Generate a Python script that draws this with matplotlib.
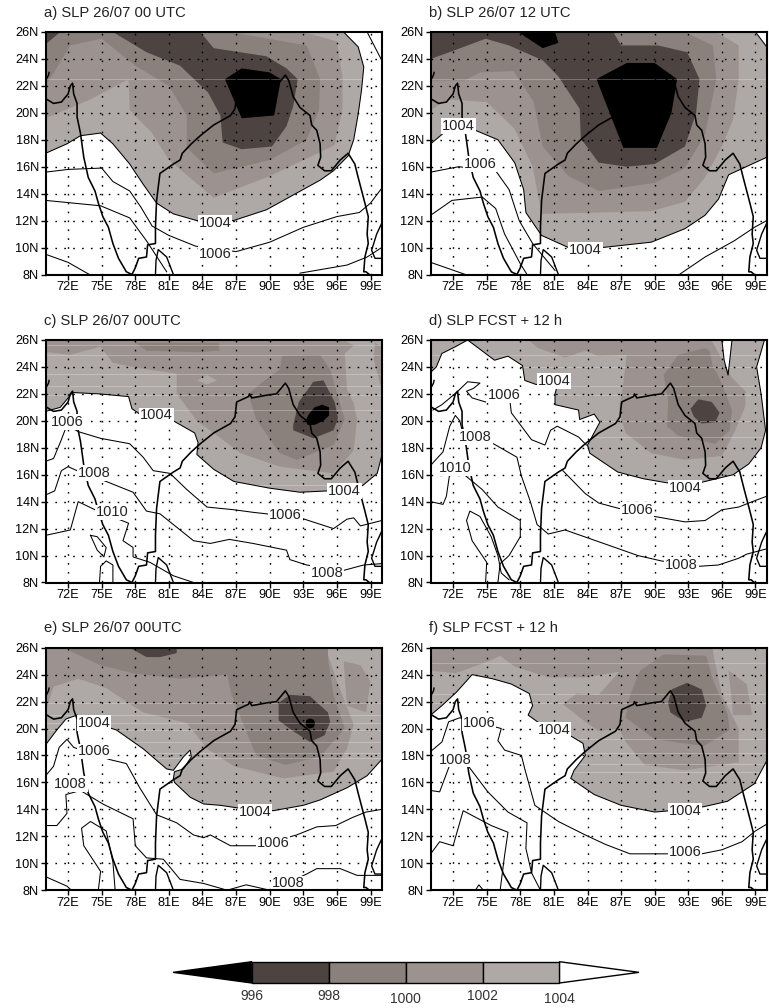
import matplotlib
matplotlib.use('Agg')
import matplotlib.pyplot as plt
from matplotlib.patches import Polygon

plt.rcParams['font.family'] = ['Liberation Sans', 'DejaVu Sans']
plt.rcParams['lines.solid_joinstyle'] = 'round'

W, H = 769, 1008

BAND_COLORS = {1004: '#aea9a6', 1002: '#9c9390', 1000: '#8a807c', 998: '#4d4441', 996: '#000000'}
LON_TICKS = [72, 75, 78, 81, 84, 87, 90, 93, 96, 99]
LAT_TICKS = [8, 10, 12, 14, 16, 18, 20, 22, 24, 26]

# coastlines, same in every panel (lon, lat)
COAST_WEST = [(70, 21.05), (70.7, 20.7), (71.4, 20.8), (72, 21.4), (72.2, 22), (72.4, 22.2), (72.5, 21.4),
              (72.8, 20.7), (72.8, 19.7), (73.1, 18.5), (73.4, 16.7), (73.8, 15.2), (74.4, 14.2), (74.7, 13.3),
              (75.1, 12.3), (75.6, 11.5), (76, 10.3), (76.5, 9.2), (77.2, 8.2), (77.7, 8), (78, 8.5), (78.3, 9.2),
              (79, 9.3), (79.1, 10.2), (79.8, 10.3), (79.8, 11.5), (79.9, 13.5), (80.2, 15.5), (80.8, 15.85),
              (81.4, 16.2), (82, 16.5), (82.2, 17), (83, 17.7), (83.8, 18.3), (85, 19.1), (86.5, 19.8), (86.9, 20.3),
              (87.05, 21.4), (88.1, 21.8), (88.2, 22), (88.4, 21.7), (89.7, 21.9), (90.6, 22), (91.4, 22.8),
              (91.7, 22.4), (92.1, 21.2), (92.7, 20.4), (93.6, 19.8), (93.75, 19.1), (94.2, 18.7), (94.5, 17.7),
              (94.55, 16.7), (94.3, 16.1), (94.9, 15.7), (95.5, 15.7), (96.3, 16.5), (97, 17), (97.6, 16.2),
              (97.9, 15.2), (98.5, 13.3), (98.8, 12.3), (98.7, 11), (98.8, 10.3), (98.5, 9.3), (98.4, 8.2),
              (98.6, 8.2), (98.9, 8)]
COAST_KRA = [(100, 11.8), (99.55, 11), (99.1, 9.8), (99.4, 9.2), (100, 9.2)]
COAST_LANKA = [(79.8, 8), (79.85, 9.05), (80.05, 9.85), (80.8, 9.3), (81.4, 8)]
COAST_KATHIAWAR = [(70, 22.4), (70.25, 22.8), (70.3, 23)]

# panel a
A_1004 = [(70, 17), (71.9, 17.7), (73.1, 18.3), (74.9, 18.5), (76, 17.7), (77.5, 16.2), (78.7, 14.7), (79.9, 13.3),
          (81.4, 12.5), (83.5, 12), (86.75, 12), (89.7, 12.8), (92.1, 13.9), (94.5, 15), (95.7, 15.7), (97, 16.8),
          (97.5, 18), (97.9, 19.9), (98.2, 21.7), (98.4, 23.4), (97.9, 24.9), (96.6, 26), (70, 26)]
A_1002 = [(70, 19.6), (74, 21), (77.4, 22.5), (77.5, 20.2), (79.5, 18.5), (81, 16.5), (85, 13.7), (90, 15.3),
          (95.8, 17.6), (96.5, 20.3), (96.5, 22.6), (96, 25.3), (93, 26), (70, 26)]
A_1000 = [(70, 22), (72.2, 25), (75, 25.5), (78, 23.5), (81, 22), (82.6, 19.8), (82.6, 17.4), (85, 15.5), (90, 16.5),
          (93.3, 18), (94.4, 20.2), (94.5, 22.5), (93.3, 25), (86.5, 26), (70, 26)]
A_998 = [(76, 26), (79, 24.5), (82, 23.5), (84.5, 21.5), (85.6, 19.8), (85.8, 17.8), (87.5, 17.3), (90.2, 17.5),
         (91.5, 19), (92.1, 20.5), (92.5, 22.5), (91.5, 23.3), (89.7, 24.2), (85, 24.8), (83.8, 26)]
A_998B = [(70, 25.1), (71.3, 26), (70, 26)]
A_996 = [(86, 22.5), (87.5, 23.3), (90, 23), (91, 22.5), (90.4, 19.8), (87.5, 19.6)]
A_LINES = [[(70, 15.6), (72, 15.8), (75, 15.9), (76, 14.9), (77.5, 14.2), (78.5, 13), (79.5, 11.6), (81, 10.9),
            (83.4, 10.1), (87, 9.7), (90, 10.4), (93, 11.5), (96, 12.3), (98, 12.6), (99, 13.3), (100, 14.4)],
           [(98.7, 26), (100, 23.9)],
           [(70, 13.5), (74.9, 13.1), (77.5, 12.2), (79, 10.5), (80.8, 8.2)],
           [(70, 9.5), (72, 8.9), (73.9, 8)],
           [(92.7, 8.1), (96.9, 8.7), (98.7, 9.3), (100, 10)]]
A_LABELS = [(1004, 85.1, 11.8), (1006, 85.1, 9.55)]

# panel b
B_1004 = [(70, 17.7), (71.3, 18.6), (74, 18.7), (76, 18), (77.5, 16.3), (78.3, 14.3), (78.5, 12.6), (79.9, 10.9),
          (82.3, 10), (85.3, 10), (89.7, 10.4), (92.7, 11.4), (94.5, 12.4), (95.7, 13.6), (96.6, 15.4), (100, 16.7),
          (100, 24.9), (99, 26), (70, 26)]
B_1002 = [(70, 20.2), (71.5, 21), (75, 20.8), (77.5, 18.8), (79.1, 16), (79.9, 12.5), (89.7, 12.7), (92.7, 13.4),
          (94.5, 15.2), (96, 17.5), (97, 19.5), (97.5, 22.5), (97.5, 25), (95.5, 26), (70, 26)]
B_1000 = [(70, 22.4), (73, 22.4), (74.4, 23), (77.4, 23.1), (79.2, 20.8), (80, 17.5), (82.3, 15.3), (85, 14.2),
          (90, 14.8), (92.7, 15.9), (94.5, 18.4), (95.5, 22.5), (95.2, 25), (92.7, 26), (70, 26)]
B_998 = [(70, 24), (72, 24.6), (74.9, 25.5), (77, 25), (80, 23.9), (81.4, 22.7), (83.3, 20.3), (83.4, 18.1),
         (85, 16.3), (87.5, 16), (90, 16.2), (92.7, 17.5), (93.7, 20), (94, 22.5), (92.9, 24.5), (90.3, 25),
         (87, 25), (86.3, 26), (70, 26)]
B_996 = [(84.8, 22.5), (87.5, 23.7), (90, 23.7), (92, 22.5), (91.5, 20), (90.2, 17.4), (87.2, 17.4)]
B_996B = [(77.8, 26), (80, 24.8), (81.4, 25.2), (81.1, 26)]
B_LINES = [[(70, 15.6), (72.5, 16), (75.8, 15.7), (77, 14.3), (77.9, 12), (79.1, 10.3), (81.1, 8.3)],
           [(92.2, 8), (94.5, 9.3), (97.1, 10.5), (98.9, 11.5), (100, 12)],
           [(70, 12.4), (71.9, 13.5), (74.6, 13.75), (75.8, 12.9), (76.6, 11), (78, 8.8), (78.6, 8)],
           [(70, 8.9), (73.1, 8)]]
B_LABELS = [(1004, 72.5, 19.05), (1006, 74.4, 16.2), (1004, 83.8, 9.8)]

# panel c
C_1004 = [(70, 20.7), (71.3, 21), (72.4, 22.1), (74.8, 22), (77.4, 21.8), (77.7, 20.9), (78.4, 20.5), (81.4, 20),
          (83.3, 19.1), (83.6, 18.4), (83.5, 17.5), (85, 16.4), (86.8, 15.5), (90, 15), (92.7, 14.7), (95.2, 14.8),
          (98.3, 15.2), (99.6, 16.1), (100, 17.4), (100, 26), (70, 26)]
C_1002 = [(70, 25.1), (72.2, 24.9), (74.9, 25.5), (76, 24.3), (78.4, 23.9), (81.7, 23.5), (81.7, 22), (83.5, 20),
          (85, 19.1), (87.4, 17.6), (90.9, 16.6), (95.7, 16.1), (97.5, 17.8), (97.8, 20.1), (97.5, 21.3),
          (96.9, 22.3), (96.7, 25), (97.5, 25.6), (96.6, 26), (70, 26)]
C_1002B = [(99.4, 25.8), (100, 25.5), (100, 22.3), (99.3, 24.5)]
C_LIGHT = [(83.5, 23), (84.4, 23.4), (85.3, 23), (84.4, 22.7)]
C_1000 = [(88.1, 22), (89.4, 22.9), (90.9, 23.8), (91.1, 24.8), (94.5, 24.9), (95.4, 23.8), (96.1, 21.8), (96.7, 20.1),
          (95.7, 18.2), (92.4, 17.1), (90.9, 17.6), (88.8, 20.1)]
C_1000B = [(78, 25.8), (79, 25.2), (83.5, 25.1), (85.5, 25.2), (85.5, 25.8)]
C_998 = [(92.1, 19.7), (92.6, 21.4), (93.9, 22.9), (94.8, 23), (95.8, 21.4), (96.1, 20.2), (95.7, 19.3), (93.9, 18.7),
         (92.1, 19.3)]
C_996 = [(93.2, 20), (93.5, 20.5), (94, 21), (94.7, 21.2), (95.3, 21), (95.3, 20.4), (94.8, 20), (94, 19.7), (93.4, 19.7)]
C_LINES = [[(70, 17), (70.7, 17.2), (71.4, 18.6), (71.9, 19.7), (72.9, 19.2), (74.9, 18.7), (77.5, 18.3), (78.7, 17.3),
            (79.6, 16.3), (81.1, 16.1), (82.6, 14.9), (84.4, 13.6), (86.8, 13.4), (88.6, 13.2), (89.7, 13.1),
            (93.1, 12.7), (95.7, 12), (96.9, 12.7), (97.5, 12.8), (98.1, 12.2), (100, 12.6)],
           [(70, 14.5), (70.8, 14.8), (71.4, 16.3), (72, 16.6), (72.8, 16.3), (75.4, 15.5), (77.8, 14.7), (79, 13.3),
            (80.2, 13.1), (83.2, 11.1), (84.7, 10.9), (86.4, 11.2), (88.5, 10.9), (91.5, 10.4), (91.8, 9.7),
            (93.3, 9.3), (96.6, 8.9), (98.4, 9.3), (100, 9.4)],
           [(70, 11.5), (72.2, 11.9), (72.9, 14), (74.4, 13.4), (77.4, 12.4), (76.9, 11.1), (77.8, 10.6), (77.8, 9.9),
            (79.3, 9.5), (81.4, 8.5), (83.2, 8)],
           [(74, 11.5), (74.6, 11.4), (75.4, 10.6), (75.2, 9.9), (74.6, 10.4), (74, 11.5)],
           [(74.8, 8), (74.9, 9.2), (75.4, 9.6), (76, 9.3), (76, 8)]]
C_LABELS = [(1006, 71.9, 19.9), (1004, 79.9, 20.4), (1008, 74.3, 16.1), (1010, 75.9, 13.2), (1006, 91.4, 13),
            (1004, 96.7, 14.8), (1008, 95.1, 8.7)]

# panel d
D_1004 = [(73.3, 26), (75.7, 24.5), (76.9, 24.8), (78.2, 24.1), (78.4, 23), (79.4, 22.7), (81.3, 22.6), (81.1, 22),
          (81.1, 21.2), (83.2, 20.8), (83.3, 20.1), (84.6, 20.5), (85.1, 19.9), (84, 18.2), (84.2, 17.6), (86.7, 16.2),
          (89, 15.7), (91.1, 15.4), (94, 15.4), (97, 16), (98.4, 16.8), (99.5, 18), (99.9, 19.3), (99.5, 22),
          (99.1, 24), (99.8, 26), (96.9, 26), (96.7, 24.5), (96.55, 23.4), (96.2, 24.5), (96, 26)]
D_1004B = [(70, 23.6), (70.5, 24), (71, 25), (72.2, 25.5), (73.3, 26), (70, 26)]
D_1002 = [(78.7, 26), (79.6, 25.4), (82, 24.7), (83.8, 25.2), (85, 24.8), (87.5, 24.9), (87.2, 22.8), (86.8, 20.8),
          (87.4, 19.1), (89.7, 17.6), (92.7, 17.1), (96, 17.4), (97.2, 19.3), (98.1, 21.1), (98.1, 22.2), (96.9, 23.2),
          (95.2, 25.8), (94.9, 26)]
D_1000 = [(90.8, 23.4), (92.1, 24.9), (94.5, 25.4), (94.9, 25.2), (95.2, 24), (95.7, 23.3), (96.9, 20.8), (96.7, 19.3),
          (95.4, 18.3), (92.1, 18.9), (91.1, 19.6), (91.2, 21.5)]
D_998 = [(93.2, 20.9), (93.9, 21.6), (95.1, 21.4), (95.8, 20.6), (95.4, 19.9), (94.2, 19.8), (93.5, 20.3)]
D_LINES = [[(70.2, 20.8), (71, 21.2), (72.3, 22.1), (73.3, 22.9), (74.4, 22.8), (73.8, 22.4), (73.2, 22.2), (73.7, 21.7),
            (74.9, 21.4)],
           [(77.1, 21.3), (77.2, 20.6), (79, 18.6), (80.2, 18.2), (80.7, 19.3), (81.3, 19.6), (83.2, 18.8), (83.9, 18.2)],
           [(81.8, 16.3), (83.8, 14.6), (85, 13.9), (86.8, 13.5), (90, 12.9), (92.7, 12.5), (94.5, 12.6), (96, 13.4),
            (97.5, 13.6), (98.7, 14), (100, 14.4)],
           [(70, 16.7), (71.1, 17.7), (71.7, 19.6), (72.2, 20.4), (72.6, 20), (72.8, 19.3), (75.6, 18.3), (77.7, 17.3),
            (78.1, 15.9), (78.9, 14), (79.5, 12.3), (80.5, 11.6), (82, 11.9), (84.4, 11.2), (86.8, 10.5), (88.5, 10),
            (90.6, 9.6), (93.9, 9.2), (95.7, 9.3), (97.5, 9.8), (98.2, 10.1), (100, 10.5)],
           [(70, 14), (71.1, 13.8), (71.4, 14.4), (71.7, 16.1), (73, 16), (74.6, 14.9), (76, 13.6), (78, 12.6), (78, 11.4),
            (77, 10), (76.2, 9.4), (76, 8)],
           [(74.9, 8), (75, 9.5), (73.7, 11.1), (73.2, 12.6), (73.5, 13.3), (74.4, 12.9), (75.4, 11.4), (76, 10),
            (76.3, 8.7), (77, 8.2)]]
D_LABELS = [(1004, 81, 22.95), (1006, 76.6, 21.9), (1008, 74, 18.8), (1010, 72.2, 16.5), (1006, 88.4, 13.4),
            (1004, 92.7, 15), (1008, 92.4, 9.3)]

# panel e
E_1004 = [(70, 18.8), (71, 19.9), (71.8, 20.7), (72.8, 21), (75.9, 20), (76.3, 19.9), (78.7, 18.5), (80.8, 17),
          (81.4, 16.9), (82.3, 17.9), (82.9, 18.4), (83, 17.9), (82.3, 17), (81.5, 16.8), (81.4, 16.3), (81.5, 16),
          (82.9, 14.9), (84.1, 14.4), (85.6, 14.3), (87.2, 14.1), (90.3, 13.9), (93, 14.3), (94.5, 14.7), (96.9, 15.6),
          (98.7, 16.5), (100, 17.7), (100, 26), (70, 26)]
E_1002 = [(70, 21.3), (70.7, 23.1), (72.9, 23.7), (75.4, 23), (78.7, 21.2), (82.6, 20.4), (84.4, 18.5), (86.8, 17.2),
          (91.2, 16.3), (95.7, 16.8), (96.9, 18.5), (97.5, 20.3), (96, 23.5), (95.2, 25.5), (95.1, 26), (70, 26)]
E_1002B = [(96.6, 25), (98.1, 24.7), (99, 23.5), (98.6, 21.2), (96.9, 21.7)]
E_1000 = [(72.3, 25.7), (74.9, 24.7), (77.8, 24.1), (82, 23.7), (86.2, 24), (86.6, 22.5), (87.8, 20), (88.8, 18),
          (91.4, 17.3), (94.5, 17.9), (96.7, 20), (95.7, 22.5), (95.2, 25.2), (95.2, 26), (72, 26)]
E_998 = [(90.8, 21.9), (91.8, 22.5), (93.6, 22.4), (95.2, 21.2), (95.4, 20.5), (94.9, 19.5), (93.6, 19), (92.1, 19.8),
         (90.8, 20.6)]
E_998B = [(77.5, 26), (79, 25.3), (80.2, 25.3), (81.7, 25.6), (81.7, 26)]
E_996 = [(93.2, 20.4), (93.3, 20.65), (93.6, 20.75), (93.95, 20.65), (94.05, 20.4), (93.95, 20.1), (93.6, 20), (93.3, 20.1)]
E_LINES = [[(70, 16.5), (70.7, 17.2), (71.2, 18.6), (71.9, 19.2), (72.5, 18.6), (75.7, 17.7), (77.2, 17.4), (78.4, 15.6),
            (79.9, 13.6), (81.7, 13), (83.2, 12.1), (84.1, 11.9), (84.7, 12.1), (86.5, 11.3), (88.9, 11.3), (92.4, 12.1),
            (94.2, 12.7), (95.9, 12.8), (97.4, 13.4), (98.6, 13.8), (100, 14)],
           [(70, 12.8), (71, 12.8), (71.9, 13.7), (71.8, 15.1), (73.1, 15.4), (75.1, 14.4), (77.8, 13.3), (78, 11.3),
            (79, 10.4), (80.5, 10.3), (82, 8.8), (84.1, 8.5), (86.2, 8), (87.9, 8.4), (90, 8)],
           [(91.5, 8.5), (93.3, 9.2), (94.2, 9.6), (96.3, 9.6), (97.8, 9.1), (100, 9.1)],
           [(70, 9), (71.9, 8.3), (72.3, 8)],
           [(74.7, 8), (74.9, 9.4), (73.4, 11.3), (73.2, 12.6), (74, 13.1), (75.4, 12.4), (76, 10.1), (76.2, 8)]]
E_LABELS = [(1004, 74.3, 20.4), (1006, 74.3, 18.3), (1008, 72.2, 15.9), (1004, 88.7, 13.8), (1006, 90.3, 11.5),
            (1008, 91.7, 8.5)]

# panel f
F_1004 = [(70, 21), (71, 21.7), (72.3, 22.7), (73.7, 24), (75.5, 23.7), (77.2, 23.3), (78.8, 22.6), (79.1, 21.7),
          (78.7, 21), (79.7, 20.4), (82.6, 19.4), (83.6, 18.9), (83.8, 18), (82.8, 16.9), (82.5, 16.3), (84.6, 15.1),
          (87, 14.3), (90, 13.8), (91.4, 13.9), (94.4, 14.2), (96.5, 14.6), (98.9, 15.9), (100, 17.6), (100, 26), (70, 26)]
F_1002 = [(70, 24.3), (72.2, 24.1), (75.2, 25), (76.2, 25.4), (77.5, 24.6), (80.5, 23.8), (83.8, 23.8), (86.8, 24.2),
          (85, 22.5), (83, 22.6), (81.8, 21.8), (83.8, 20.5), (85, 19.8), (86.8, 20), (87.4, 19), (89.1, 17.3),
          (92.7, 16.9), (97.5, 17.5), (97.5, 20), (96, 22.5), (95.2, 25.7), (95.2, 26), (70, 26)]
F_1002B = [(96.6, 24.3), (98.2, 23.3), (98.7, 21), (97, 21)]
F_1000 = [(87.8, 22.5), (88.7, 24.3), (90.8, 25.5), (94.6, 25.4), (95.2, 23.6), (96.5, 21.1), (96.7, 19.9), (94.4, 18.7),
          (90, 19.2), (87.4, 20.8)]
F_998 = [(91.2, 21.9), (91.5, 22.9), (92.9, 23.4), (94.2, 22.9), (94.6, 21.7), (94.2, 20.8), (92.7, 20.5), (91.4, 21.2)]
F_LINES = [[(70, 18.3), (71, 19), (71.6, 20.5), (72.6, 20.8), (76.3, 20), (76, 19.1), (76.6, 18.4), (78.1, 18), (78.4, 17),
            (79.3, 14.3), (81.4, 13.1), (83.8, 12.1), (85.6, 11.4), (87.8, 10.7), (91.1, 10.7), (94.2, 10.7), (96, 11),
            (97.8, 11.6), (99, 12.4), (100, 12.9)],
           [(70, 15.4), (70.8, 15.3), (71.7, 17.3), (73.1, 17.5), (75.1, 15.3), (76.9, 13.8), (78.6, 13), (78.5, 11.1),
            (79, 9.3), (79.8, 8)],
           [(70, 10.7), (70.8, 11.6), (72, 11.3), (72.9, 13.9), (75.4, 12.8), (76.9, 12.3), (76.6, 10.6), (76.2, 8)],
           [(74, 8), (74.3, 8.4), (74.7, 8)]]
F_LABELS = [(1006, 74.3, 20.4), (1004, 81, 19.9), (1008, 72.2, 17.7), (1004, 92.7, 13.9), (1006, 92.7, 10.85)]

TITLES = ['a) SLP 26/07 00 UTC', 'b) SLP 26/07 12 UTC', 'c) SLP 26/07 00UTC',
          'd) SLP FCST + 12 h', 'e) SLP 26/07 00UTC', 'f) SLP FCST + 12 h']

LAYERS = [
    [(1004, A_1004), (1002, A_1002), (1000, A_1000), (998, A_998), (998, A_998B), (996, A_996)],
    [(1004, B_1004), (1002, B_1002), (1000, B_1000), (998, B_998), (996, B_996), (996, B_996B)],
    [(1004, C_1004), (1002, C_1002), (1002, C_1002B), (1004, C_LIGHT), (1000, C_1000), (1000, C_1000B), (998, C_998), (996, C_996)],
    [(1004, D_1004), (1004, D_1004B), (1002, D_1002), (1000, D_1000), (998, D_998)],
    [(1004, E_1004), (1002, E_1002), (1002, E_1002B), (1000, E_1000), (998, E_998), (998, E_998B), (996, E_996)],
    [(1004, F_1004), (1002, F_1002), (1002, F_1002B), (1000, F_1000), (998, F_998)],
]
OUTLINES = [[A_1004], [B_1004], [C_1004], [D_1004, D_1004B], [E_1004], [F_1004]]
LINES = [A_LINES, B_LINES, C_LINES, D_LINES, E_LINES, F_LINES]
LABELS = [A_LABELS, B_LABELS, C_LABELS, D_LABELS, E_LABELS, F_LABELS]
# faint scan streaks in the source
STREAKS = [[22.5], [22.5], [25.6, 24.9, 23.5, 22.6, 21.9, 20.8, 15.2],
           [24.9, 24, 22.6, 21.9, 20, 18.8, 15.5, 14.8],
           [21.9, 21, 20.4, 19.9, 19, 18.2, 17.8, 13.7],
           [24.9, 22.6, 21.9, 19.2, 18.2, 17.4, 16.8, 13.7]]

CBAR_LEVELS = [996, 998, 1000, 1002, 1004]
CBAR_COLORS = ['#4d4441', '#8a807c', '#9c9390', '#aea9a6']
CBAR_TIP_LOW = 993.95
CBAR_TIP_HIGH = 1006.07


def axes_px(fig, left, top, width, height):
    return fig.add_axes([left / W, 1 - (top + height) / H, width / W, height / H])


def draw_outline(ax, poly):
    # only the part on the contour, points on the top edge of the frame break it
    run = []
    for p in poly:
        run.append(p)
        if p[1] == 26:
            if len(run) > 1:
                ax.plot([q[0] for q in run], [q[1] for q in run], color='k', lw=0.75, zorder=4)
            run = [p]
    if len(run) > 1:
        ax.plot([q[0] for q in run], [q[1] for q in run], color='k', lw=0.75, zorder=4)


def draw_panel(fig, i, left, top):
    ax = axes_px(fig, left, top, 336, 242.5)
    ax.set_xlim(70, 100)
    ax.set_ylim(8, 26)

    for level, poly in LAYERS[i]:
        ax.add_patch(Polygon(poly, closed=True, fc=BAND_COLORS[level], ec='none', zorder=2))
    for poly in OUTLINES[i]:
        draw_outline(ax, poly)
    for line in LINES[i]:
        ax.plot([p[0] for p in line], [p[1] for p in line], color='k', lw=0.75, zorder=4)

    for lat in STREAKS[i]:
        ax.axhline(lat, color='white', lw=0.6, alpha=0.3, zorder=3)

    for coast, lw in [(COAST_WEST, 1.15), (COAST_KRA, 1.0), (COAST_LANKA, 1.0), (COAST_KATHIAWAR, 1.0)]:
        ax.plot([p[0] for p in coast], [p[1] for p in coast], color='k', lw=lw, zorder=5)

    for lon in LON_TICKS:
        ax.plot([lon, lon], [8, 26], color='k', lw=1.0, ls=(0, (1.2, 5.2)), zorder=6)
    for lat in LAT_TICKS[1:-1]:
        ax.plot([70, 100], [lat, lat], color='k', lw=1.0, ls=(0, (1.2, 5.2)), zorder=6)

    for value, lon, lat in LABELS[i]:
        ax.text(lon, lat, str(value), fontsize=10.5, ha='center', va='center', zorder=7, color='#222222',
                bbox=dict(fc='white', ec='none', pad=0.6))

    ax.set_xticks(LON_TICKS)
    ax.set_xticklabels(['%dE' % v for v in LON_TICKS])
    ax.set_yticks(LAT_TICKS)
    ax.set_yticklabels(['%dN' % v for v in LAT_TICKS])
    ax.tick_params(length=3.5, width=1, labelsize=9.2, pad=1.5)
    for s in ax.spines.values():
        s.set_linewidth(1.5)
        s.set_zorder(8)
    fig.text((left - 1.5) / W, 1 - (top - 19.5) / H, TITLES[i], fontsize=10.6, ha='left', va='center', color='#222222')


def draw_colorbar(fig):
    ax = axes_px(fig, 173, 961.7, 466, 21.3)
    ax.set_xlim(CBAR_TIP_LOW, CBAR_TIP_HIGH)
    ax.set_ylim(0, 1)
    ax.axis('off')
    ax.add_patch(Polygon([(CBAR_TIP_LOW, 0.5), (996, 1), (996, 0)], fc='k', ec='k', lw=1, clip_on=False))
    ax.add_patch(Polygon([(CBAR_TIP_HIGH, 0.5), (1004, 1), (1004, 0)], fc='white', ec='k', lw=1, clip_on=False))
    for lo, hi, c in zip(CBAR_LEVELS[:-1], CBAR_LEVELS[1:], CBAR_COLORS):
        ax.add_patch(Polygon([(lo, 0), (hi, 0), (hi, 1), (lo, 1)], fc=c, ec='k', lw=1, clip_on=False))
    for level in CBAR_LEVELS:
        # labels sit unevenly in the source
        offset = -0.62 if level in (996, 998, 1002) else -0.75
        ax.text(level, offset, str(level), fontsize=10, ha='center', va='center', color='#333333', clip_on=False)


fig = plt.figure(figsize=(W / 100, H / 100), dpi=100)
for i, (left, top) in enumerate([(45.7, 32), (430.7, 32), (45.7, 340), (430.7, 340), (45.7, 647.7), (430.7, 647.7)]):
    draw_panel(fig, i, left, top)
draw_colorbar(fig)
fig.savefig('out.png', dpi=100)
